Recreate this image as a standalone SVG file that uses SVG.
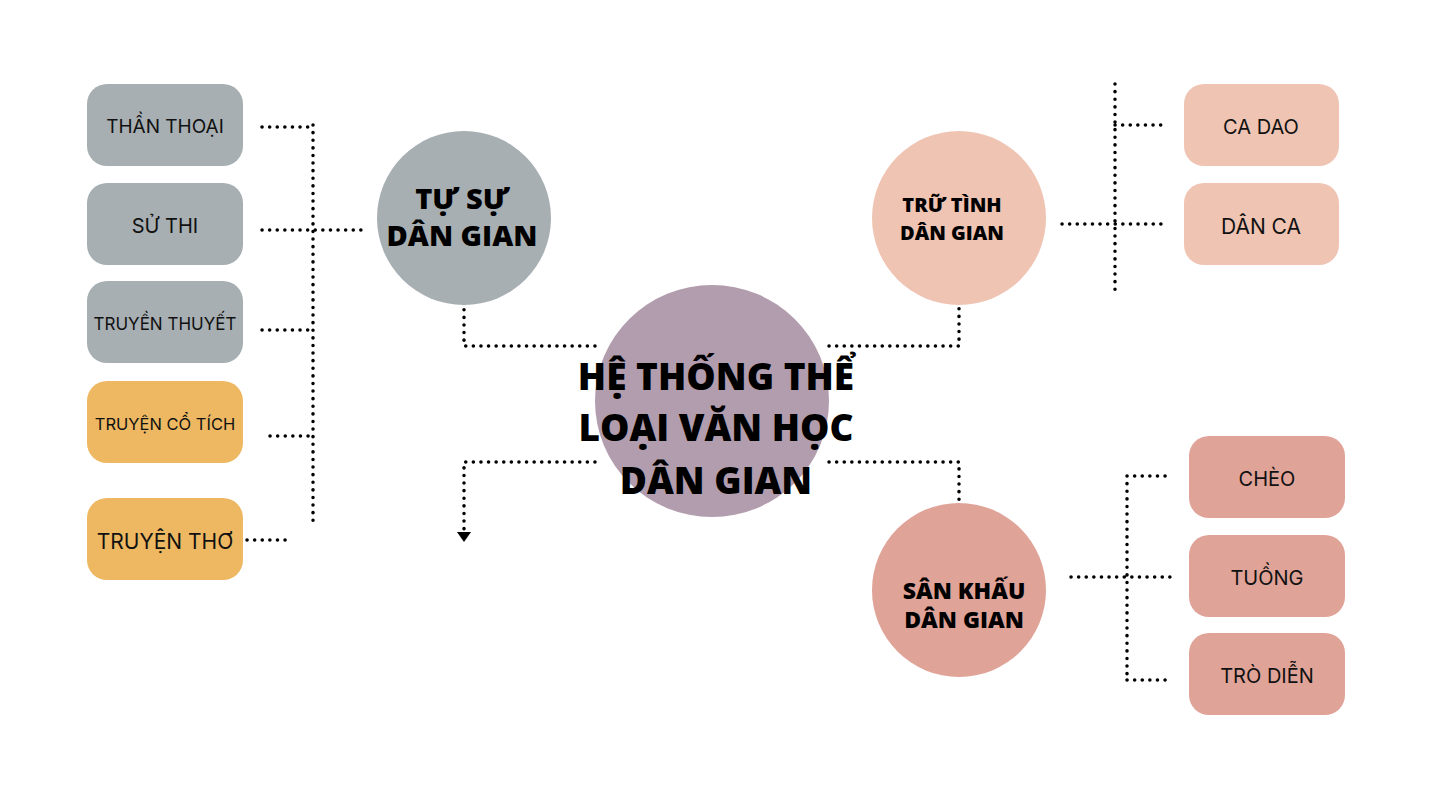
<svg xmlns="http://www.w3.org/2000/svg" width="1432" height="805" viewBox="0 0 1432 805">
<style>
.c{fill:none;stroke:#000;stroke-width:3.5;stroke-linecap:round;stroke-dasharray:0.1 7.5}
.b{font-family:"Open Sans","DejaVu Sans",sans-serif;font-weight:800;fill:#000;text-anchor:middle}
.t{font-family:Inter,"Liberation Sans",sans-serif;fill:#111;text-anchor:middle}
.g{fill:#a7afb3}.o{fill:#eeb862}.p{fill:#efc4b3}.r{fill:#e0a398}
</style>
<defs><marker id="a" viewBox="0 0 10 10" refX="5" refY="5" markerWidth="4" markerHeight="4" orient="auto-start-reverse"><path d="M0,0L10,5L0,10z" fill="#000"/></marker></defs>
<rect width="1432" height="805" fill="#fff"/>
<g id="connectors">
<path class="c" d="M313,125V527M262,127H313M262,230H362M262,330H313M270,436H313M247,540H287"/>
<path class="c" d="M595,346H464V272"/>
<path d="M457,276L464,266L471,276z"/>
<path class="c" d="M595,462H464V532"/>
<path d="M457,532L464,542L471,532z"/>
<path class="c" d="M829,346H959V272"/>
<path d="M952,276L959,266L966,276z"/>
<path class="c" d="M829,462H959V530"/>
<path d="M952,530L959,540L966,530z"/>
<path class="c" d="M1115,84V290M1115,125H1163M1062,224H1163"/>
<path class="c" d="M1127,476V680M1127,476H1170M1071,577H1170M1127,680H1170"/>
</g>
<g id="center"><ellipse cx="712" cy="401" rx="117" ry="116" fill="#b29dae"/>
<text class="b" font-size="37" x="716" y="390">HỆ THỐNG THỂ</text>
<text class="b" font-size="37" x="716" y="441">LOẠI VĂN HỌC</text>
<text class="b" font-size="37" x="716" y="494">DÂN GIAN</text></g>
<g id="tusu"><circle cx="464" cy="218" r="87" class="g"/>
<text class="b" font-size="29" x="462" y="209">TỰ SỰ</text><text class="b" font-size="29" x="462" y="246">DÂN GIAN</text></g>
<g id="trutinh"><circle cx="959" cy="218" r="87" class="p"/>
<text class="b" font-size="20" x="952" y="212">TRỮ TÌNH</text><text class="b" font-size="20" x="952" y="240">DÂN GIAN</text></g>
<g id="sankhau"><circle cx="959" cy="590" r="87" class="r"/>
<text class="b" font-size="23" x="964" y="599">SÂN KHẤU</text><text class="b" font-size="23" x="964" y="628">DÂN GIAN</text></g>
<g id="thanthoai"><rect x="87" y="84" width="156" height="82" rx="20" class="g"/><text class="t" font-size="19" x="165" y="133">THẦN THOẠI</text></g>
<g id="suthi"><rect x="87" y="183" width="156" height="82" rx="20" class="g"/><text class="t" font-size="20" x="165" y="233">SỬ THI</text></g>
<g id="truyenthuyet"><rect x="87" y="281" width="156" height="82" rx="20" class="g"/><text class="t" font-size="17" x="165" y="330">TRUYỀN THUYẾT</text></g>
<g id="cotich"><rect x="87" y="381" width="156" height="82" rx="20" class="o"/><text class="t" font-size="16.5" x="165" y="430">TRUYỆN CỔ TÍCH</text></g>
<g id="truyentho"><rect x="87" y="498" width="156" height="82" rx="20" class="o"/><text class="t" font-size="21" x="165" y="549">TRUYỆN THƠ</text></g>
<g id="cadao"><rect x="1184" y="84" width="155" height="82" rx="20" class="p"/><text class="t" font-size="20" x="1261" y="134">CA DAO</text></g>
<g id="danca"><rect x="1184" y="183" width="155" height="82" rx="20" class="p"/><text class="t" font-size="21" x="1261" y="234">DÂN CA</text></g>
<g id="cheo"><rect x="1189" y="436" width="156" height="82" rx="20" class="r"/><text class="t" font-size="20" x="1267" y="486">CHÈO</text></g>
<g id="tuong"><rect x="1189" y="535" width="156" height="82" rx="20" class="r"/><text class="t" font-size="20" x="1267" y="585">TUỒNG</text></g>
<g id="trodien"><rect x="1189" y="633" width="156" height="82" rx="20" class="r"/><text class="t" font-size="20" x="1267" y="683">TRÒ DIỄN</text></g>
</svg>
